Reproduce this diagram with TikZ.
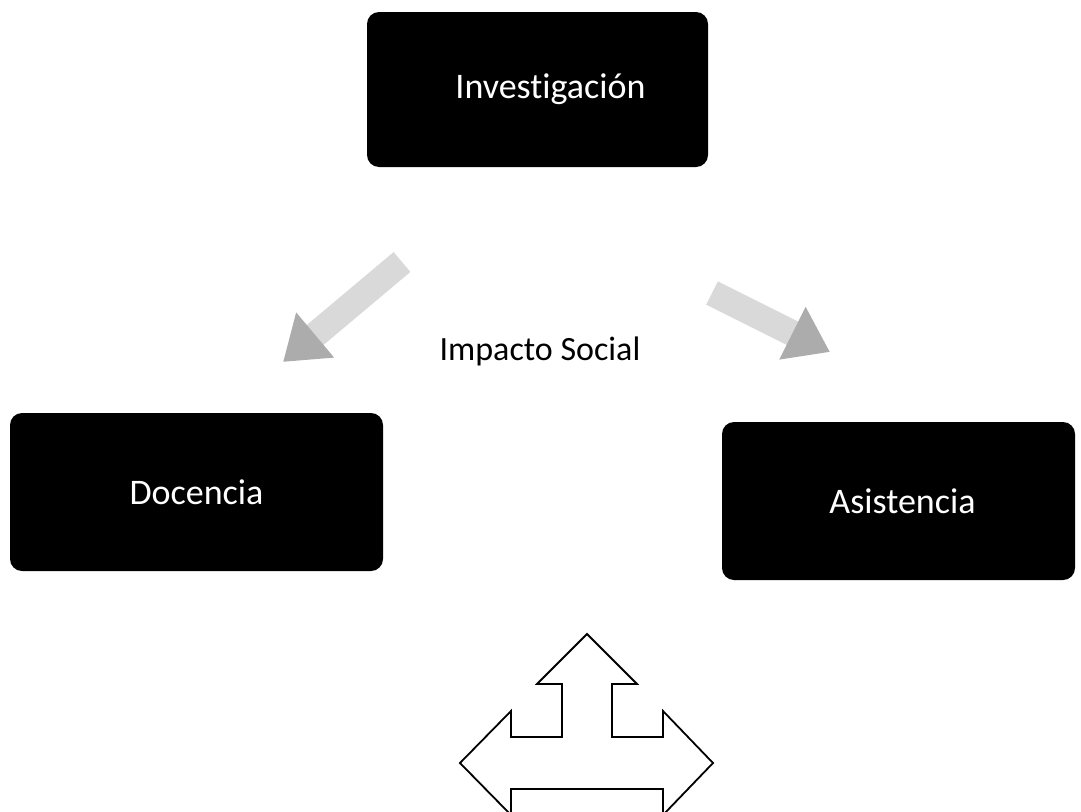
\documentclass[tikz,border=0pt]{standalone}
\usepackage{fontspec}
\setmainfont[Ligatures=NoCommon]{Carlito}
\usetikzlibrary{arrows.meta}
\tikzset{area/.style={fill=black,rounded corners=12pt,text=white,font=\fontsize{36}{40}\selectfont,inner sep=0pt},
faint/.style={line width=26pt,gray!30,-{Triangle[length=42pt,width=56pt,gray!65]}}}
\begin{document}
\begin{tikzpicture}[x=1pt,y=-1pt]
\useasboundingbox (0,0) rectangle (1081,811);
\clip (0,0) rectangle (1081,811);
\node[area,minimum width=341pt,minimum height=155pt] (inv) at (537.5,89.5) {\hspace*{26pt}\raisebox{-5pt}{Investigación}};
\node[area,minimum width=373pt,minimum height=158pt] (doc) at (196.5,492) {Docencia};
\node[area,minimum width=353pt,minimum height=158pt] (asis) at (898.5,501) {\hspace*{8pt}Asistencia};
\node[font=\fontsize{34}{40}\selectfont] (imp) at (540,351) {Impacto Social};
% faint scanned arrows
\coordinate (fa1) at (402,262); \coordinate (fa2) at (283,362);
\coordinate (fb1) at (712,293); \coordinate (fb2) at (830,352);
\draw[faint] (fa1)--(fa2);
\draw[faint] (fb1)--(fb2);
% three-way arrow
\draw[line width=1.8pt,fill=white,line join=miter] (587,634)--(637,684)--(612,684)--(612,737)--(663,737)--(663,711)--(713,763)--(663,815)--(663,789)--(511,789)--(511,815)--(460,763)--(511,711)--(511,737)--(562,737)--(562,684)--(537,684)--cycle;
\end{tikzpicture}
\end{document}
